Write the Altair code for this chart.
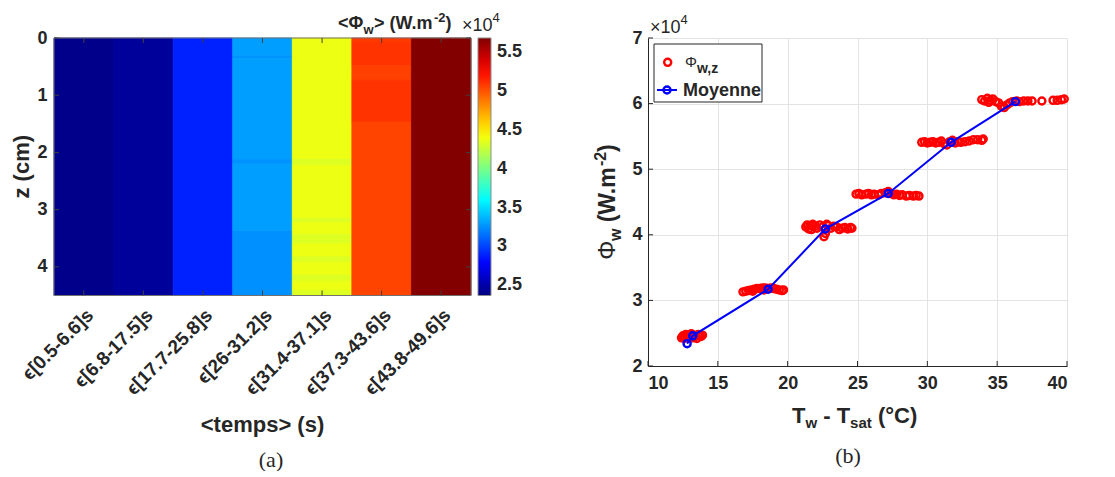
import altair as alt
import pandas as pd

SANS = "Liberation Sans"
SERIF = "Liberation Serif"
DARK = "#262626"

# ---------------- (a) heat map data ----------------
col_labels = ["ϵ[0.5-6.6]s", "ϵ[6.8-17.5]s", "ϵ[17.7-25.8]s", "ϵ[26-31.2]s",
              "ϵ[31.4-37.1]s", "ϵ[37.3-43.6]s", "ϵ[43.8-49.6]s"]
# segments along z (cm) for each column: column index, z start, z end, <Phi_w> (W/m2)
seg_col = [0, 1, 2,
           3, 3, 3, 3, 3, 3,
           4, 4, 4, 4, 4, 4, 4, 4, 4, 4, 4, 4,
           5, 5, 5, 5, 5,
           6]
seg_z0 = [0, 0, 0,
          0, 0.31, 0.36, 2.12, 2.20, 3.37,
          0, 2.12, 2.23, 3.15, 3.23, 3.43, 3.60, 3.82, 3.92, 4.14, 4.25, 4.41,
          0, 0.08, 0.48, 0.74, 1.47,
          0]
seg_z1 = [4.5, 4.5, 4.5,
          0.31, 0.36, 2.12, 2.20, 3.37, 4.5,
          2.12, 2.23, 3.15, 3.23, 3.43, 3.60, 3.82, 3.92, 4.14, 4.25, 4.41, 4.5,
          0.08, 0.48, 0.74, 1.47, 4.5,
          4.5]
seg_val = [24050, 24550, 28900,
           33000, 32600, 33000, 32600, 33000, 32500,
           43800, 43300, 43800, 43300, 43800, 43300, 43800, 43300, 43800, 43300, 43800, 43300,
           50800, 51000, 50600, 51000, 50450,
           56700]
cbar_ticks = [25000, 30000, 35000, 40000, 45000, 50000, 55000]
z_ticks = [0, 1, 2, 3, 4]

# ---------------- (b) scatter data ----------------
phi_x = [12.4, 12.5, 12.6, 12.7, 12.8, 12.9, 13.0, 13.1, 13.2, 13.3, 13.4, 13.5, 13.6, 13.7, 13.8, 13.9, 12.6, 13.0,
         16.8, 17.0, 17.2, 17.4, 17.6, 17.8, 18.0, 18.2, 18.4, 18.6, 18.8, 19.0, 19.2, 19.4, 19.6, 19.7, 17.5, 18.3,
         21.3, 21.4, 21.5, 21.6, 21.8, 22.0, 22.1, 22.3, 22.5, 22.6, 22.7, 22.9, 23.1, 23.3, 23.5, 23.7, 23.9, 24.1,
         24.3, 24.5, 24.6, 22.8, 21.7,
         24.9, 25.1, 25.3, 25.6, 25.8, 26.0, 26.2, 26.5, 26.7, 27.0, 27.2, 27.4, 27.6, 27.8, 28.0, 28.2, 28.5, 28.7,
         29.0, 29.2, 29.4,
         29.6, 29.8, 30.0, 30.2, 30.4, 30.6, 30.8, 31.0, 31.2, 31.4, 31.6, 31.8, 32.0, 32.2, 32.4, 32.7, 33.0, 33.3,
         33.6, 33.9, 34.0,
         33.9, 34.1, 34.3, 34.5, 34.7, 34.9, 35.1, 35.3, 35.5, 35.7, 35.9, 36.1, 36.4, 36.6, 36.9, 37.2, 37.5, 38.2,
         39.0, 39.3, 39.6, 39.8, 34.4]
phi_y = [24300, 24600, 24500, 24800, 24700, 24400, 24600, 24900, 24300, 24700, 24500, 24200, 24800, 24600, 24500, 24700, 24200, 24300,
         31300, 31400, 31500, 31600, 31700, 31800, 31800, 31900, 31900, 31800, 31900, 31800, 31700, 31600, 31500, 31600, 31400, 31600,
         41200, 41500, 40900, 41400, 41600, 41300, 41000, 41500, 41200, 39700, 40200, 41400, 41000, 41300, 41200, 40800, 41000, 41100,
         40900, 41100, 41000, 41600, 40800,
         46200, 46300, 46100, 46200, 46300, 46100, 46200, 46100, 46300, 46400, 46600, 46300, 46100, 46200, 46000, 46100, 45900, 46000,
         45900, 46000, 45900,
         54100, 54200, 54000, 54100, 54200, 54000, 54100, 54300, 53900, 53700, 54200, 54400, 54000, 54200, 54100, 54200, 54300, 54500,
         54500, 54400, 54600,
         60600, 60400, 60800, 60500, 60700, 60300, 60100, 59600, 59400, 59800, 60100, 60300, 60400, 60300, 60400, 60400, 60400, 60400,
         60500, 60500, 60600, 60700, 60200]
moy_x = [12.8, 13.2, 18.6, 22.7, 27.2, 31.7, 36.3]
moy_y = [23400, 24600, 31700, 40900, 46300, 54100, 60300]
x_ticks = [10, 15, 20, 25, 30, 35, 40]
y_ticks = [20000, 30000, 40000, 50000, 60000, 70000]

# jet colour map stops
jet_pos = [0, 0.125, 0.375, 0.625, 0.875, 1.0]
jet_cols = ["#000080", "#0000ff", "#00ffff", "#ffff00", "#ff0000", "#800000"]
cmin, cmax = 23700, 56800
jet_dom = [cmin + p * (cmax - cmin) for p in jet_pos]

W1, H1 = 417, 257.5
W2, H2 = 419, 328
TICK = 5

dummy = pd.DataFrame({"a": [0]})


def txt(text, x, y, size=18, weight="bold", align="left", baseline="alphabetic",
        angle=0, font=SANS, color=DARK):
    return alt.Chart(dummy).mark_text(
        text=text, fontSize=size, fontWeight=weight, align=align, baseline=baseline,
        angle=angle, font=font, color=color
    ).encode(x=alt.value(x), y=alt.value(y))


# ---------------- left chart ----------------
seg_df = pd.DataFrame({
    "col": [col_labels[i] for i in seg_col],
    "z0": seg_z0, "z1": seg_z1, "val": seg_val,
})
col_df = pd.DataFrame({"col": col_labels})
z_df = pd.DataFrame({"z0": z_ticks})

jet_scale = dict(domain=jet_dom, range=jet_cols, interpolate="rgb")
y_axis1 = alt.Axis(values=z_ticks, title=None, labelPadding=7, domain=False, ticks=False,
                   grid=False, format="d")
x_axis1 = alt.Axis(title=None, labelAngle=-45, labelFontSize=19, labelPadding=10,
                   domain=False, ticks=False)
y_scale1 = alt.Scale(domain=[0, 4.5], reverse=True, nice=False, zero=False)

heat = alt.Chart(seg_df).mark_rect(strokeWidth=0.8).encode(
    x=alt.X("col:N", sort=col_labels,
            scale=alt.Scale(paddingInner=0, paddingOuter=0), axis=x_axis1),
    y=alt.Y("z0:Q", scale=y_scale1, axis=y_axis1),
    y2="z1:Q",
    color=alt.Color("val:Q", scale=alt.Scale(**jet_scale),
                    legend=alt.Legend(title=None, orient="right", offset=7, padding=0,
                                      gradientLength=H1, gradientThickness=13,
                                      gradientStrokeColor="#8c8c8c", gradientStrokeWidth=1,
                                      values=cbar_ticks, labelExpr="datum.value / 10000",
                                      labelOverlap=False, labelFontSize=18, labelFontWeight="bold",
                                      labelFont=SANS, labelColor=DARK, labelOffset=6)),
    stroke=alt.Stroke("val:Q", scale=alt.Scale(**jet_scale), legend=None),
)

frame1 = alt.Chart(dummy).mark_rect(fillOpacity=0, stroke="#707070", strokeWidth=1).encode(
    x=alt.value(0), x2=alt.value(W1), y=alt.value(0), y2=alt.value(H1))
xt_bot = alt.Chart(col_df).mark_rule(color="#404040", strokeWidth=1).encode(
    x=alt.X("col:N", sort=col_labels, bandPosition=0.5, axis=x_axis1),
    y=alt.value(H1), y2=alt.value(H1 - TICK))
xt_top = alt.Chart(col_df).mark_rule(color="#404040", strokeWidth=1).encode(
    x=alt.X("col:N", sort=col_labels, bandPosition=0.5, axis=x_axis1),
    y=alt.value(0), y2=alt.value(TICK))
yt_left = alt.Chart(z_df).mark_rule(color="#404040", strokeWidth=1).encode(
    y=alt.Y("z0:Q", axis=y_axis1), x=alt.value(0), x2=alt.value(TICK))
yt_right = alt.Chart(z_df).mark_rule(color="#404040", strokeWidth=1).encode(
    y=alt.Y("z0:Q", axis=y_axis1), x=alt.value(W1 - TICK), x2=alt.value(W1))
anchor = alt.Chart(dummy).mark_rect(opacity=0).encode(
    x=alt.value(-46), x2=alt.value(-45), y=alt.value(-30), y2=alt.value(-29))

left = alt.layer(
    heat, frame1, xt_bot, xt_top, yt_left, yt_right, anchor,
    txt("z (cm)", -25.5, H1 / 2, size=22, align="center", angle=270),
    txt("<temps> (s)", W1 / 2, 393.5, size=22, align="center"),
    txt("(a)", 217, 428.5, size=22, weight="normal", align="center", font=SERIF),
    # colour bar title
    txt("<Φ", 284, -9.5, size=18),
    txt("w", 309.5, -4, size=13),
    txt("> (W.m", 320, -9.5, size=18),
    txt("-2", 380, -16.5, size=13),
    txt(")", 391.5, -9.5, size=18),
    txt("×10", 408, -7.5, size=18, weight="normal"),
    txt("4", 438.5, -16, size=13, weight="normal"),
).properties(width=W1, height=H1)

# ---------------- right chart ----------------
pts_df = pd.DataFrame({"x": phi_x, "y": phi_y})
moy_df = pd.DataFrame({"x": moy_x, "y": moy_y})
xt_df = pd.DataFrame({"x": x_ticks})
yt_df = pd.DataFrame({"y": y_ticks})

pts = alt.Chart(pts_df).mark_point(shape="circle", filled=False, color="#ff0000",
                                   size=50, strokeWidth=2.4, opacity=1).encode(
    x=alt.X("x:Q", scale=alt.Scale(domain=[10, 40], nice=False, zero=False),
            axis=alt.Axis(values=x_ticks, title=None, grid=True, labelPadding=8,
                          ticks=False, domainColor=DARK)),
    y=alt.Y("y:Q", scale=alt.Scale(domain=[20000, 70000], nice=False, zero=False),
            axis=alt.Axis(values=y_ticks, title=None, grid=True, labelPadding=6,
                          labelExpr="datum.value / 10000", ticks=False, domainColor=DARK)),
)
moy_line = alt.Chart(moy_df).mark_line(color="#0000ff", strokeWidth=2).encode(x="x:Q", y="y:Q")
moy_pts = alt.Chart(moy_df).mark_point(shape="circle", filled=False, color="#0000ff",
                                       size=50, strokeWidth=2.4, opacity=1).encode(x="x:Q", y="y:Q")
rxt = alt.Chart(xt_df).mark_rule(color=DARK, strokeWidth=1).encode(
    x="x:Q", y=alt.value(H2), y2=alt.value(H2 - TICK))
ryt = alt.Chart(yt_df).mark_rule(color=DARK, strokeWidth=1).encode(
    y="y:Q", x=alt.value(0), x2=alt.value(TICK))

leg_box = alt.Chart(dummy).mark_rect(fill="white", stroke=DARK, strokeWidth=1).encode(
    x=alt.value(6), x2=alt.value(114), y=alt.value(6), y2=alt.value(64))
leg_red = alt.Chart(dummy).mark_point(shape="circle", filled=False, color="#ff0000",
                                      size=50, strokeWidth=2.4, opacity=1).encode(
    x=alt.value(19.7), y=alt.value(24.3))
leg_line = alt.Chart(dummy).mark_rule(color="#0000ff", strokeWidth=2).encode(
    x=alt.value(9), x2=alt.value(29), y=alt.value(52))
leg_blue = alt.Chart(dummy).mark_point(shape="circle", filled=False, color="#0000ff",
                                       size=50, strokeWidth=2.4, opacity=1).encode(
    x=alt.value(19), y=alt.value(52))

right = alt.layer(
    rxt, ryt, pts, moy_line, moy_pts, leg_box, leg_red, leg_line, leg_blue,
    txt("Φ", 37, 29, size=15, weight="normal"),
    txt("w,z", 49, 35, size=14),
    txt("Moyenne", 35, 58, size=18),
    txt("×10", 2, -5, size=18, weight="normal"),
    txt("4", 32.5, -14, size=13, weight="normal"),
    # y title (rotated, reading upward)
    txt("Φ", -33, 221.8, size=24, weight="normal", angle=270),
    txt("w", -27, 203.1, size=16, angle=270),
    txt("(W.m", -33, 184.3, size=23, angle=270),
    txt("-2", -42, 128.1, size=16, angle=270),
    txt(")", -33, 113.9, size=23, angle=270),
    # x title
    txt("T", 144, 385, size=22),
    txt("w", 157.4, 390, size=15),
    txt("- T", 175.2, 385, size=22),
    txt("sat", 202.1, 390, size=15),
    txt("(°C)", 229.9, 385, size=22),
    txt("(b)", 200, 425, size=22, weight="normal", align="center", font=SERIF),
).properties(width=W2, height=H2)

chart = alt.hconcat(left, right, spacing=177, bounds="flush").resolve_scale(
    x="independent", y="independent", color="independent"
).properties(padding=0).configure_view(strokeWidth=0).configure_axis(
    labelFont=SANS, labelFontWeight="bold", labelFontSize=18, labelColor=DARK,
    gridColor="#e3e3e3", gridWidth=1, domainWidth=1
)

chart.save("out.html", embed_options={"renderer": "svg", "actions": False})
